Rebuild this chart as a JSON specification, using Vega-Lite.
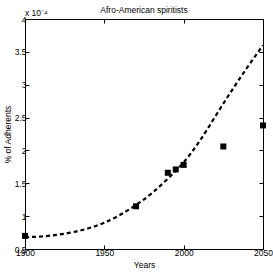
{
  "$schema": "https://vega.github.io/schema/vega-lite/v6.json",
  "width": 238,
  "height": 230,
  "autosize": {"type": "none"},
  "padding": {"left": 25, "top": 19, "right": 10, "bottom": 24},
  "background": "white",
  "title": {"text": "Afro-American spiritists", "fontSize": 8.5, "fontWeight": "normal", "font": "Liberation Sans", "color": "black", "offset": 5, "dy": 10},
  "config": {
    "view": {"stroke": "black", "strokeWidth": 1},
    "axis": {"grid": false, "domainColor": "black", "tickColor": "black", "labelColor": "black", "titleColor": "black", "labelFont": "Liberation Sans", "titleFont": "Liberation Sans", "labelFontSize": 8.5, "titleFontSize": 8.5, "titleFontWeight": "normal", "tickSize": -4, "labelPadding": 3, "labelFlush": false, "labelOverlap": false}
  },
  "datasets": {
    "obs": [
      {"year": 1900, "value": 0.70},
      {"year": 1970, "value": 1.15},
      {"year": 1990, "value": 1.66},
      {"year": 1995, "value": 1.71},
      {"year": 2000, "value": 1.78},
      {"year": 2025, "value": 2.06},
      {"year": 2050, "value": 2.38}
    ],
    "fit": [
      {"year": 1900, "value": 0.68},
      {"year": 1910, "value": 0.69},
      {"year": 1920, "value": 0.715},
      {"year": 1930, "value": 0.755},
      {"year": 1940, "value": 0.815},
      {"year": 1950, "value": 0.90},
      {"year": 1960, "value": 1.02},
      {"year": 1970, "value": 1.17},
      {"year": 1980, "value": 1.35},
      {"year": 1990, "value": 1.57},
      {"year": 2000, "value": 1.82},
      {"year": 2010, "value": 2.14},
      {"year": 2020, "value": 2.52},
      {"year": 2030, "value": 2.90},
      {"year": 2040, "value": 3.26},
      {"year": 2050, "value": 3.60}
    ]
  },
  "layer": [
    {
      "data": {"name": "fit"},
      "mark": {"type": "line", "color": "black", "strokeWidth": 2.2, "strokeDash": [4, 3], "interpolate": "natural", "clip": true},
      "encoding": {
        "x": {"field": "year", "type": "quantitative", "scale": {"domain": [1900, 2050], "nice": false, "zero": false},
              "axis": {"values": [1900, 1950, 2000, 2050], "format": "d", "title": "Years", "titlePadding": 4}},
        "y": {"field": "value", "type": "quantitative", "scale": {"domain": [0.5, 4], "nice": false, "zero": false},
              "axis": {"values": [0.5, 1, 1.5, 2, 2.5, 3, 3.5, 4], "format": "~g", "title": "% of Adherents", "titleX": -13}}
      }
    },
    {
      "data": {"name": "obs"},
      "mark": {"type": "square", "color": "black", "filled": true, "size": 36, "opacity": 1},
      "encoding": {
        "x": {"field": "year", "type": "quantitative", "axis": {"orient": "top", "values": [1900, 1950, 2000, 2050], "labels": false, "title": null, "domain": false}},
        "y": {"field": "value", "type": "quantitative", "axis": {"orient": "right", "values": [0.5, 1, 1.5, 2, 2.5, 3, 3.5, 4], "labels": false, "title": null, "domain": false}}
      }
    },
    {
      "data": {"values": [{"year": 1900, "value": 4, "label": "x 10⁻⁴"}]},
      "mark": {"type": "text", "align": "left", "baseline": "bottom", "dy": -1, "font": "Liberation Sans", "fontSize": 8.5, "color": "black"},
      "encoding": {
        "x": {"field": "year", "type": "quantitative", "axis": null},
        "y": {"field": "value", "type": "quantitative", "axis": null},
        "text": {"field": "label"}
      }
    }
  ],
  "resolve": {"axis": {"x": "independent", "y": "independent"}}
}
